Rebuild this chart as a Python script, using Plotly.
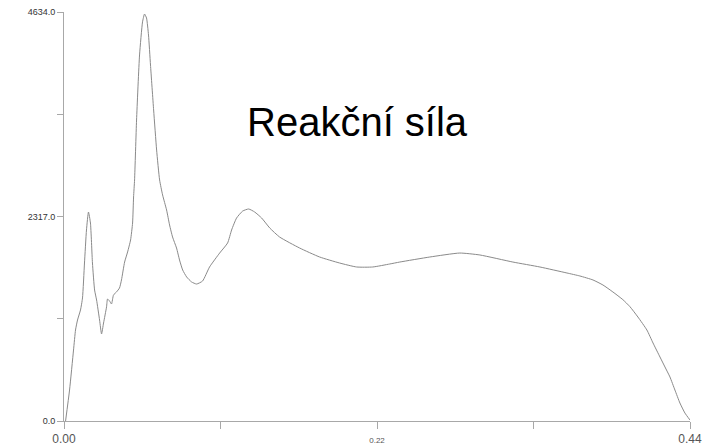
import plotly.graph_objects as go

# displacement (x) and reaction force (y)
x_vals = [0.0011, 0.0039, 0.0067, 0.0081, 0.0095, 0.0116, 0.0130, 0.0144, 0.0158, 0.0172,
          0.0186, 0.0200, 0.0215, 0.0229, 0.0250, 0.0264, 0.0278, 0.0299, 0.0306, 0.0320,
          0.0334, 0.0348, 0.0369, 0.0390, 0.0404, 0.0426, 0.0447, 0.0468, 0.0482, 0.0489,
          0.0496, 0.0510, 0.0531, 0.0552, 0.0566, 0.0580, 0.0594, 0.0608, 0.0630, 0.0651,
          0.0672, 0.0693, 0.0721, 0.0742, 0.0763, 0.0791, 0.0812, 0.0834, 0.0862, 0.0897,
          0.0932, 0.0974, 0.1023, 0.1094, 0.1150, 0.1178, 0.1213, 0.1256, 0.1298, 0.1340,
          0.1389, 0.1446, 0.1515, 0.1656, 0.1797, 0.1937, 0.2057, 0.2170, 0.2290, 0.2360,
          0.2571, 0.2782, 0.2923, 0.3155, 0.3345, 0.3535, 0.3626, 0.3718, 0.3788, 0.3858,
          0.3928, 0.3978, 0.4034, 0.4097, 0.4140, 0.4189, 0.4224, 0.4259, 0.4294, 0.4329,
          0.4364, 0.4400]
y_vals = [0, 351, 804, 1031, 1144, 1258, 1394, 1790, 2164, 2368,
          2243, 1790, 1484, 1371, 1144, 986, 1110, 1292, 1382, 1360,
          1326, 1428, 1462, 1507, 1598, 1801, 1915, 2051, 2243, 2538,
          2731, 3410, 4147, 4521, 4611, 4566, 4373, 4033, 3524, 3070,
          2731, 2561, 2391, 2221, 2085, 1960, 1824, 1711, 1632, 1575,
          1552, 1586, 1745, 1903, 2017, 2164, 2300, 2379, 2402, 2368,
          2300, 2187, 2085, 1960, 1858, 1790, 1745, 1745, 1779, 1801,
          1858, 1903, 1881, 1801, 1745, 1677, 1643, 1598, 1541, 1462,
          1375, 1295, 1178, 1031, 884, 725, 612, 499, 351, 204,
          91, 11]

x_ticks = [0, 0.11, 0.22, 0.33, 0.44]
x_tick_labels = ["0.00", "", "<span style='font-size:8px'>0.22</span>", "", "0.44"]
y_ticks = [0, 1158.5, 2317, 3475.5, 4634]
y_tick_labels = ["0.0", "", "2317.0", "", "4634.0"]
title_text = "Reakční síla"

ML, MR, MT, MB = 64, 24, 12, 25
W, H = 714, 446

fig = go.Figure()
fig.add_trace(go.Scatter(x=x_vals, y=y_vals, mode="lines",
                         line=dict(color="#8a8a8a", width=1, shape="spline", smoothing=0.5),
                         hoverinfo="skip", showlegend=False))

fig.update_layout(
    width=W, height=H,
    margin=dict(l=ML, r=MR, t=MT, b=MB, autoexpand=False),
    paper_bgcolor="white", plot_bgcolor="white",
    font=dict(family="Liberation Sans, Arial, sans-serif", color="#444444"),
    xaxis=dict(range=[0, 0.44], tickvals=x_ticks, ticktext=x_tick_labels, automargin=False,
               showgrid=False, zeroline=False, showline=True, linecolor="#a8a8a8", linewidth=1,
               ticks="outside", ticklen=7, tickcolor="#a8a8a8", tickfont=dict(size=12, color="#555555")),
    yaxis=dict(range=[0, 4634], tickvals=y_ticks, ticktext=y_tick_labels, automargin=False,
               showgrid=False, zeroline=False, showline=True, linecolor="#a8a8a8", linewidth=1,
               ticks="outside", ticklen=6, tickcolor="#a8a8a8", tickfont=dict(size=9, color="#333333")),
    annotations=[dict(text=title_text,
                      x=(357 - ML) / (W - ML - MR), y=1 - (122 - MT) / (H - MT - MB),
                      xref="paper", yref="paper", xanchor="center", yanchor="middle",
                      showarrow=False,
                      font=dict(size=40, color="#000000",
                                family="Liberation Sans, Arial, sans-serif"))],
)

fig.write_html("out.html", config={"displayModeBar": False},
               post_script="document.body.style.margin='0';document.body.style.overflow='hidden';")
